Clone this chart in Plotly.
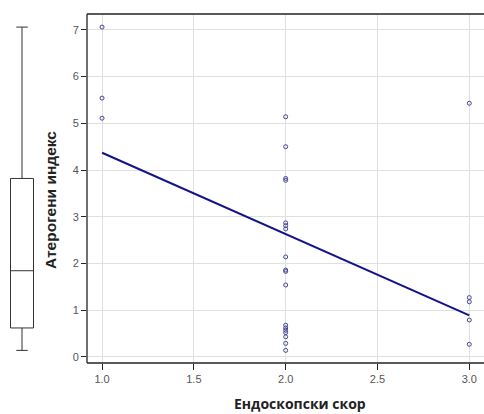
import plotly.graph_objects as go

# Endoscopic score groups and the atherogenic index measured in each
score_1 = [7.06, 5.54, 5.11]
score_2 = [5.14, 4.50, 3.82, 3.78, 2.87, 2.81, 2.74, 2.14, 1.86, 1.83,
           1.54, 0.68, 0.62, 0.57, 0.52, 0.43, 0.29, 0.14]
score_3 = [5.43, 1.27, 1.18, 0.79, 0.27]

x_vals = [1.0] * len(score_1) + [2.0] * len(score_2) + [3.0] * len(score_3)
y_vals = score_1 + score_2 + score_3

# fitted regression line, endpoints over the observed score range
fit_x = [1.0, 3.0]
fit_y = [4.37, 0.89]

x_ticks = [1.0, 1.5, 2.0, 2.5, 3.0]
y_ticks = [0, 1, 2, 3, 4, 5, 6, 7]

W, H = 484, 414
left_px = 87
top_px, bottom_px = 14, 363
plot_h = bottom_px - top_px
y_range = [-0.13, 7.34]

fig = go.Figure()

fig.add_trace(go.Scatter(
    x=x_vals, y=y_vals, mode="markers",
    marker=dict(symbol="circle-open", size=4, color="#45458f",
                line=dict(width=1, color="#45458f")),
    showlegend=False, hoverinfo="x+y",
))

fig.add_trace(go.Scatter(
    x=fit_x, y=fit_y, mode="lines",
    line=dict(color="#14148a", width=2),
    showlegend=False,
))

# marginal box plot of the index on its own panel with the same y range
fig.add_trace(go.Box(
    y=y_vals, x0=22, width=23, xaxis="x2", yaxis="y2",
    fillcolor="white", line=dict(color="#333333", width=1),
    boxpoints=False, showlegend=False, quartilemethod="exclusive",
))

grid = "#e0e0e0"
frame = dict(color="#222222", width=1.3)
tick_font = dict(family="Arial, Liberation Sans", size=11, color="#555555")

fig.update_layout(
    width=W, height=H,
    margin=dict(l=0, r=0, t=top_px, b=H - bottom_px),
    paper_bgcolor="white", plot_bgcolor="white",
    xaxis=dict(
        domain=[left_px / W, 1], range=[0.918, 3.08],
        tickvals=x_ticks, ticktext=[f"{v:.1f}" for v in x_ticks],
        showgrid=True, gridcolor=grid, gridwidth=1, zeroline=False,
        showline=False, anchor="y",
        ticks="outside", ticklen=6, tickcolor="#222222", tickfont=tick_font,
    ),
    yaxis=dict(
        range=y_range, tickvals=y_ticks,
        showgrid=True, gridcolor=grid, gridwidth=1, zeroline=False,
        showline=False,
        ticks="outside", ticklen=5, tickcolor="#222222", tickfont=tick_font,
        anchor="x",
    ),
    xaxis2=dict(domain=[0, left_px / W], range=[0, left_px], visible=False,
                anchor="y2"),
    yaxis2=dict(domain=[0, 1], range=y_range, visible=False, anchor="x2"),
    shapes=[
        # open frame of the scatter panel: left, bottom and top edges
        dict(type="line", xref="paper", yref="paper",
             x0=left_px / W, x1=1, y0=1, y1=1, line=frame),
        dict(type="line", xref="paper", yref="paper",
             x0=left_px / W, x1=1, y0=0, y1=0, line=frame),
        dict(type="line", xref="paper", yref="paper",
             x0=left_px / W, x1=left_px / W, y0=0, y1=1, line=frame),
    ],
    annotations=[
        dict(text="Ендоскопски скор", xref="paper", yref="paper",
             x=300 / W, y=-(403 - bottom_px) / plot_h,
             xanchor="center", yanchor="middle", showarrow=False,
             font=dict(family="Open Sans, Liberation Sans", size=14,
                       color="#222222", weight="bold")),
        dict(text="Атерогени индекс", xref="paper", yref="paper",
             x=50 / W, y=1 - (200 - top_px) / plot_h, textangle=-90,
             xanchor="center", yanchor="middle", showarrow=False,
             font=dict(family="Liberation Sans, Arial", size=15.5,
                       color="#222222", weight="bold")),
    ],
)

fig.write_html("out.html")
